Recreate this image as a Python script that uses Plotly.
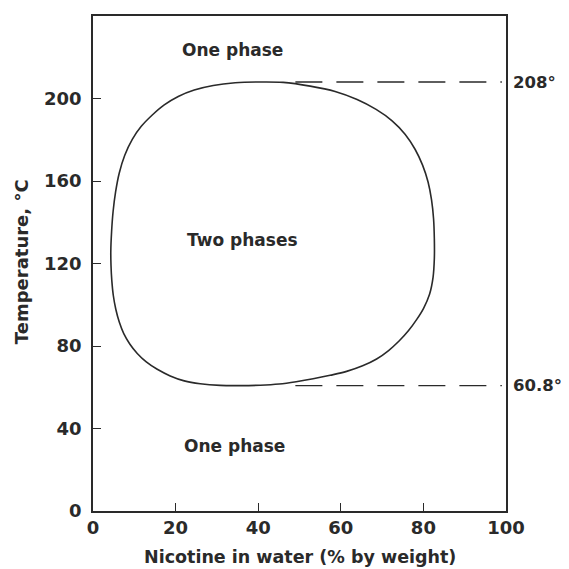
import plotly.graph_objects as go

# Coexistence curve (nicotine–water) (clockwise from the left side)
curve_x = [4.31, 4.50, 4.86, 5.47, 6.36, 7.69, 9.51, 11.69, 14.35, 17.25, 20.64, 24.51,
           29.11, 34.43, 39.99, 46.04,
           52.58, 58.63, 63.95, 68.55, 72.42, 75.56, 77.98, 79.80, 81.13, 81.97, 82.46,
           82.65, 82.65,
           82.34, 81.49, 80.04, 78.35, 76.41, 74.11, 71.57, 68.67, 65.28, 61.41, 57.42,
           53.30, 49.19, 45.08, 40.48, 35.64,
           30.80, 25.96, 22.09, 18.70, 15.56, 12.90, 10.72, 8.90, 7.45, 6.36, 5.52, 4.91,
           4.55, 4.36, 4.31]
curve_y = [125.8, 135.4, 145.1, 154.7, 163.9, 172.5, 180.2, 186.5, 192.0, 196.9, 201.0,
           204.1, 206.3, 207.6, 208.0, 207.8,
           206.0, 203.4, 199.5, 194.7, 189.2, 182.7, 175.4, 167.7, 159.5, 150.8, 141.7,
           132.0, 122.4,
           113.3, 105.1, 98.3, 92.8, 87.5, 82.4, 77.8, 73.7, 70.4, 67.7, 65.8, 64.1, 62.7,
           61.6, 61.0, 60.8,
           60.9, 61.7, 63.1, 65.5, 68.7, 72.3, 76.4, 81.0, 86.0, 91.6, 97.8, 104.6, 111.8,
           119.0, 125.8]

upper_T = 208
lower_T = 60.8
dash_x = [49, 99]

x_ticks = [0, 20, 40, 60, 80, 100]
y_ticks = [0, 40, 80, 120, 160, 200]

labels_text = ["One phase", "Two phases", "One phase"]
labels_x = [33.7, 36.1, 34.2]
labels_y = [223.5, 131.5, 31.3]

x_title = "Nicotine in water (% by weight)"
y_title = "Temperature, °C"

FONT = "DejaVu Sans"
INK = "#2a2a2a"

fig = go.Figure()
fig.add_trace(go.Scatter(x=curve_x, y=curve_y, mode="lines",
                         line=dict(color=INK, width=1.6, shape="spline", smoothing=1.0),
                         hoverinfo="skip", showlegend=False))
for T in (upper_T, lower_T):
    fig.add_trace(go.Scatter(x=dash_x, y=[T, T], mode="lines",
                             line=dict(color=INK, width=1.3, dash="27px,14px"),
                             hoverinfo="skip", showlegend=False))

for t, x, y in zip(labels_text, labels_x, labels_y):
    fig.add_annotation(x=x, y=y, text=t, showarrow=False,
                       font=dict(family=FONT, size=17, color=INK, weight="bold"))

for T, txt in ((upper_T, "208°"), (lower_T, "60.8°")):
    fig.add_annotation(xref="paper", x=1.012, y=T, yref="y", text=txt, showarrow=False,
                       xanchor="left", font=dict(family=FONT, size=16.5, color=INK, weight="bold"))

# axis titles
fig.add_annotation(xref="paper", yref="paper", x=0.501, y=-0.093, text=x_title,
                   showarrow=False, xanchor="center", yanchor="middle",
                   font=dict(family=FONT, size=17.5, color=INK, weight="bold"))
fig.add_annotation(xref="paper", yref="paper", x=-0.174, y=0.503, text=y_title,
                   showarrow=False, textangle=-90, xanchor="center", yanchor="middle",
                   font=dict(family=FONT, size=18, color=INK, weight="bold"))

axis_common = dict(showline=True, mirror=True, linecolor=INK, linewidth=1.5,
                   ticks="inside", ticklen=8, tickcolor=INK, tickwidth=1.3,
                   showgrid=False, zeroline=False, automargin=False,
                   tickfont=dict(family=FONT, size=18, color=INK, weight="bold"))

# page body has an 8px default margin, so the figure is sized to fit in the remaining area
fig.update_layout(
    width=561, height=561,
    margin=dict(l=85, r=63, t=8, b=58),
    paper_bgcolor="white", plot_bgcolor="white",
    xaxis=dict(range=[0, 100], tickvals=x_ticks, **axis_common),
    yaxis=dict(range=[0, 240], tickvals=y_ticks, ticklabelstandoff=6, **axis_common),
)

fig.write_html("out.html")
